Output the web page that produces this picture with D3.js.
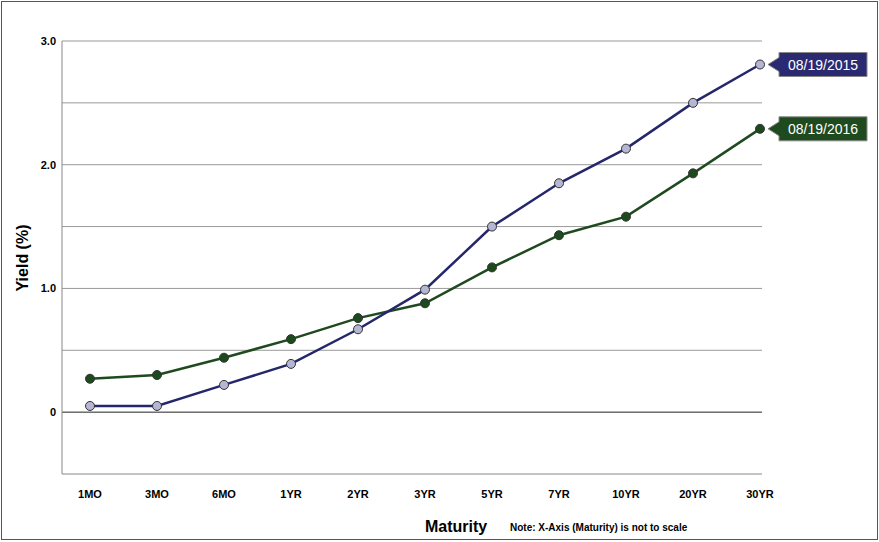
<!DOCTYPE html>
<html><head><meta charset="utf-8">
<script src="https://cdn.jsdelivr.net/npm/d3@7"></script>
<style>body{margin:0;background:#fff}</style>
</head><body>
<svg id="chart" width="879" height="542"></svg>
<script>
const maturities = ["1MO","3MO","6MO","1YR","2YR","3YR","5YR","7YR","10YR","20YR","30YR"];
const yield2015 = [0.05,0.05,0.22,0.39,0.67,0.99,1.50,1.85,2.13,2.50,2.81];
const yield2016 = [0.27,0.30,0.44,0.59,0.76,0.88,1.17,1.43,1.58,1.93,2.29];
const yTicks = [0, 1.0, 2.0, 3.0];
const gridTicks = [0.5, 1.0, 1.5, 2.0, 2.5, 3.0];

const svg = d3.select("#chart");
svg.append("rect").attr("x",1.5).attr("y",1.5).attr("width",876).attr("height",538)
  .attr("fill","#fff").attr("stroke","#555");

const x = d3.scalePoint().domain(maturities).range([90,760]);
const y = d3.scaleLinear().domain([-0.5,3.0]).range([474,41]);

svg.selectAll(".grid").data(gridTicks).enter().append("line")
  .attr("x1",62).attr("x2",762).attr("y1",d=>y(d)).attr("y2",d=>y(d))
  .attr("stroke","#999").attr("stroke-width",1);
svg.append("line").attr("x1",62).attr("x2",762).attr("y1",y(0)).attr("y2",y(0)).attr("stroke","#222");
svg.append("line").attr("x1",62).attr("x2",62).attr("y1",41).attr("y2",474).attr("stroke","#888");
svg.append("line").attr("x1",62).attr("x2",762).attr("y1",474).attr("y2",474).attr("stroke","#888");

svg.selectAll(".yl").data(yTicks).enter().append("text")
  .attr("x",56).attr("y",d=>y(d)+4).attr("text-anchor","end")
  .attr("font-family","Arial, Liberation Sans").attr("font-size",11).attr("font-weight","bold")
  .text(d=>d===0?"0":d.toFixed(1));

svg.selectAll(".xl").data(maturities).enter().append("text")
  .attr("x",d=>x(d)).attr("y",498).attr("text-anchor","middle")
  .attr("font-family","Arial, Liberation Sans").attr("font-size",11).attr("font-weight","bold")
  .text(d=>d);

svg.append("text").attr("transform","translate(28,258) rotate(-90)").attr("text-anchor","middle")
  .attr("font-family","Arial, Liberation Sans").attr("font-size",16).attr("font-weight","bold").text("Yield (%)");
svg.append("text").attr("x",425).attr("y",532)
  .attr("font-family","Arial, Liberation Sans").attr("font-size",16).attr("font-weight","bold").text("Maturity");
svg.append("text").attr("x",510).attr("y",531)
  .attr("font-family","Arial, Liberation Sans").attr("font-size",10).attr("font-weight","bold").text("Note: X-Axis (Maturity) is not to scale");

const series = [
  {vals: yield2016, line:"#1f4a1f", dot:"#1c4a1c", label:"08/19/2016"},
  {vals: yield2015, line:"#25276b", dot:"#b4b6d4", label:"08/19/2015"}
];
const line = d3.line().x((d,i)=>x(maturities[i])).y(d=>y(d));
series.forEach(s=>{
  svg.append("path").datum(s.vals).attr("d",line).attr("fill","none")
    .attr("stroke",s.line).attr("stroke-width",2.5);
  svg.selectAll(null).data(s.vals).enter().append("circle")
    .attr("cx",(d,i)=>x(maturities[i])).attr("cy",d=>y(d)).attr("r",4.5)
    .attr("fill",s.dot).attr("stroke","#333").attr("stroke-width",1);
  const lx = x(maturities[maturities.length-1]), ly = y(s.vals[s.vals.length-1]);
  const bx = lx+19, bw=88, bh=24;
  const fill = s.line === "#25276b" ? "#2a2a72" : "#1f4a1f";
  svg.append("path")
    .attr("d",`M${lx+8},${ly} L${bx},${ly-7} L${bx},${ly-bh/2} L${bx+bw},${ly-bh/2} L${bx+bw},${ly+bh/2} L${bx},${ly+bh/2} L${bx},${ly+7} Z`)
    .attr("fill",fill).attr("stroke","#888").attr("stroke-width",1);
  svg.append("text").attr("x",bx+bw/2).attr("y",ly+5).attr("text-anchor","middle")
    .attr("font-family","Arial, Liberation Sans").attr("font-size",14).attr("fill","#fff").text(s.label);
});
</script>
</body></html>
